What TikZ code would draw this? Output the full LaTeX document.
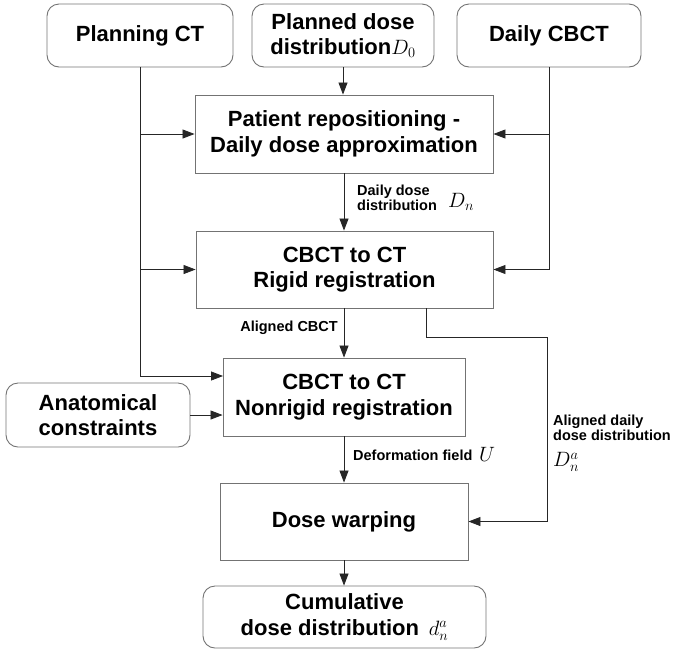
\documentclass[tikz,border=0pt]{standalone}
\usepackage{fontspec}
\setmainfont{Liberation Sans}
\usetikzlibrary{arrows.meta}
\begin{document}
\begin{tikzpicture}[x=1pt,y=-1pt,
  box/.style={draw=black!55, line width=0.9pt, align=center, inner sep=0pt,
    font=\bfseries\fontsize{22}{25.5}\selectfont},
  rbox/.style={box, rounded corners=12pt},
  lbl/.style={font=\bfseries\fontsize{14.5}{15}\selectfont, align=left, inner sep=0pt},
  mlbl/.style={font=\fontsize{21}{21}\selectfont, inner sep=0pt},
  conn/.style={draw=black!85, line width=0.8pt},
  arr/.style={conn, -{Triangle[length=12pt,width=9pt]}}]

\useasboundingbox (0,0) rectangle (674,649);

% top inputs
\node[rbox, minimum width=186pt, minimum height=63pt] (pct) at (140,35.5) {Planning CT};
\node[rbox, minimum width=182pt, minimum height=63pt] (pdd) at (343,35.5) {Planned dose\\distribution$D_0$};
\node[rbox, minimum width=184pt, minimum height=63pt] (dcb) at (549,35.5) {Daily CBCT};

% process boxes
\node[box, minimum width=298pt, minimum height=78pt] (pat) at (344,134) {Patient repositioning -\\Daily dose approximation};
\node[box, minimum width=297pt, minimum height=77pt] (rig) at (344.5,269.5) {CBCT to CT\\Rigid registration};
\node[box, minimum width=242pt, minimum height=78pt] (nr) at (344,397) {CBCT to CT\\Nonrigid registration};
\node[rbox, minimum width=184pt, minimum height=64pt] (anat) at (98,415) {Anatomical\\constraints};
\node[box, minimum width=248pt, minimum height=77pt] (dw) at (344,521.5) {Dose warping};
\node[rbox, minimum width=283pt, minimum height=62pt] (cum) at (344.5,617) {Cumulative\\dose distribution \,$d_n^a$};

% helper coordinates
\coordinate (nrA) at (223,376);
\coordinate (rgOut) at (426,308);
\coordinate (bend) at (547,337);

% connectors
\draw[arr] (pdd.south) -- (pdd.south |- pat.north);
\draw[arr] (pct.south) |- (nrA);
\draw[arr] (pct.south |- pat.west) -- (pat.west);
\draw[arr] (pct.south |- rig.west) -- (rig.west);
\draw[arr] (dcb.south) |- (rig.east);
\draw[arr] (dcb.south |- pat.east) -- (pat.east);
\draw[arr] (pat.south) -- (pat.south |- rig.north);
\draw[arr] (rig.south -| pat.south) -- (pat.south |- nr.north);
\draw[arr] (rgOut) |- (bend) |- (dw.east);
\draw[arr] (anat.east) -- (anat.east -| nr.west);
\draw[arr] (nr.south) -- (dw.north);
\draw[arr] (dw.south) -- (dw.south |- cum.north);

% labels
\node[lbl, anchor=west] (l1) at (357,197.5) {Daily dose\\distribution};
\node[mlbl, anchor=west] (l1m) at (448,202) {$D_n$};
\node[lbl, anchor=east] (l2) at (338,328) {Aligned CBCT};
\node[lbl, anchor=west] (l3) at (353,455) {Deformation field};
\node[mlbl, anchor=west] (l3m) at (479,454) {$U$};
\node[lbl, anchor=west] (l4) at (553,427.5) {Aligned daily\\dose distribution};
\node[mlbl, anchor=west] (l4m) at (553,462) {$D_n^a$};
\end{tikzpicture}
\end{document}
